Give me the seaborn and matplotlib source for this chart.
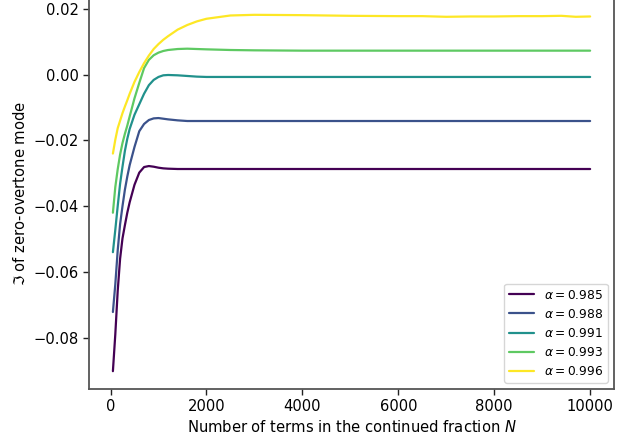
import matplotlib
matplotlib.use("Agg")
import matplotlib.pyplot as plt
import seaborn as sns
import pandas as pd

N = [50, 100, 150, 200, 250, 300, 350, 400, 500, 600, 700, 800, 900, 1000,
     1100, 1200, 1400, 1600, 1800, 2000, 2500, 3000, 4000, 5000, 6000, 6500, 7000,
     7500, 8000, 8500, 9000, 9400, 9700, 10000]

alphas = ["0.985", "0.988", "0.991", "0.993", "0.996"]

im_0985 = [-0.0902, -0.0790, -0.0658, -0.0560, -0.0498, -0.0458, -0.0420, -0.0388,
           -0.0335, -0.0298, -0.0281, -0.0278, -0.0280, -0.0283, -0.0285, -0.0286, -0.0287,
           -0.0287, -0.0287, -0.0287, -0.0287, -0.0287, -0.0287, -0.0287, -0.0287,
           -0.0287, -0.0287, -0.0287, -0.0287, -0.0287, -0.0287, -0.0287, -0.0287, -0.0287]
im_0988 = [-0.0722, -0.0638, -0.0535, -0.0455, -0.0400, -0.0350, -0.0310, -0.0275,
           -0.0220, -0.0172, -0.0150, -0.0138, -0.0133, -0.0132, -0.0134, -0.0136, -0.0139,
           -0.0141, -0.0141, -0.0141, -0.0141, -0.0141, -0.0141, -0.0141, -0.0141,
           -0.0141, -0.0141, -0.0141, -0.0141, -0.0141, -0.0141, -0.0141, -0.0141, -0.0141]
im_0991 = [-0.0540, -0.0472, -0.0400, -0.0332, -0.0280, -0.0232, -0.0195, -0.0165,
           -0.0122, -0.0090, -0.0058, -0.0032, -0.0016, -0.0007, -0.0002, -0.0001, -0.0002,
           -0.0004, -0.0006, -0.0007, -0.0007, -0.0007, -0.0007, -0.0007, -0.0007,
           -0.0007, -0.0007, -0.0007, -0.0007, -0.0007, -0.0007, -0.0007, -0.0007, -0.0007]
im_0993 = [-0.0420, -0.0342, -0.0288, -0.0243, -0.0208, -0.0180, -0.0155, -0.0127,
           -0.0072, -0.0025, 0.0020, 0.0045, 0.0059, 0.0067, 0.0072, 0.0075, 0.0078,
           0.0079, 0.0078, 0.0077, 0.0075, 0.0074, 0.0073, 0.0073, 0.0073,
           0.0073, 0.0073, 0.0073, 0.0073, 0.0073, 0.0073, 0.0073, 0.0073, 0.0073]
im_0996 = [-0.0240, -0.0198, -0.0163, -0.0140, -0.0117, -0.0097, -0.0078, -0.0058,
           -0.0022, 0.0008, 0.0035, 0.0058, 0.0078, 0.0093, 0.0106, 0.0117, 0.0137,
           0.0151, 0.0162, 0.0170, 0.0180, 0.0182, 0.0181, 0.0179, 0.0178,
           0.0178, 0.0176, 0.0177, 0.0177, 0.0178, 0.0178, 0.0179, 0.0176, 0.0177]

series = [im_0985, im_0988, im_0991, im_0993, im_0996]

rows = []
for a, vals in zip(alphas, series):
    label = rf"$\alpha = {a}$"
    for n, v in zip(N, vals):
        rows.append({"N": n, "Im": v, "alpha": label})
df = pd.DataFrame(rows)

sns.set_style("white")
plt.rcParams["font.family"] = ["DejaVu Sans"]
plt.rcParams["text.color"] = "black"
plt.rcParams["axes.labelcolor"] = "black"
plt.rcParams["xtick.color"] = "black"
plt.rcParams["ytick.color"] = "black"

fig = plt.figure(figsize=(6.36, 4.40), dpi=100)
ax = fig.add_axes([0.140, 0.1159, 0.8254, 0.8909])

palette = ["#440154", "#3b528b", "#21918c", "#5ec962", "#fde725"]
sns.lineplot(data=df, x="N", y="Im", hue="alpha", palette=palette, ax=ax,
             linewidth=1.6, legend=True)

ax.set_xticks([0, 2000, 4000, 6000, 8000, 10000])
ax.set_yticks([-0.08, -0.06, -0.04, -0.02, 0.00, 0.02])
ax.set_yticklabels(["\u22120.08", "\u22120.06", "\u22120.04", "\u22120.02", "0.00", "0.02"])
ax.set_xlabel(r"Number of terms in the continued fraction $N$", fontsize=10.6, labelpad=3)
ax.set_ylabel(r"$\Im$ of zero-overtone mode", fontsize=10.6, labelpad=4)
ax.tick_params(axis="both", which="both", direction="out", length=4, width=1,
               color="#222222", labelsize=10.6, bottom=True, left=True)
for s in ax.spines.values():
    s.set_color("#555555")
    s.set_linewidth(1.3)

leg = ax.legend(loc="lower right", fontsize=8.8, frameon=True)
leg.get_frame().set_edgecolor("#cccccc")

fig.savefig("out.png", dpi=100)
